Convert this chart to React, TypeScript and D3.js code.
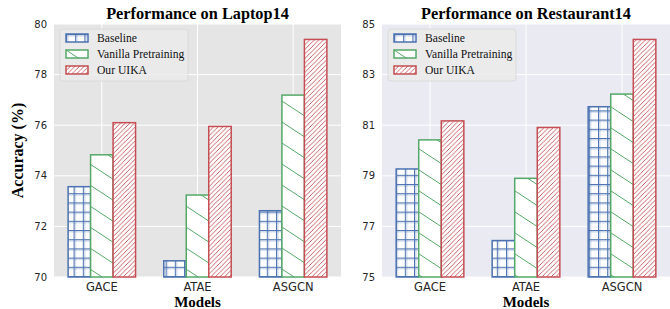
import React from 'react';
import * as d3 from 'd3';

const models = ['GACE', 'ATAE', 'ASGCN'];
const seriesNames = ['Baseline', 'Vanilla Pretraining', 'Our UIKA'];

const laptopBaseline = [73.57, 70.64, 72.62];
const laptopVanilla = [74.83, 73.24, 77.19];
const laptopUika = [76.1, 75.95, 79.39];
const laptopTicks = [70, 72, 74, 76, 78, 80];

const restBaseline = [79.27, 76.44, 81.73];
const restVanilla = [80.42, 78.9, 82.23];
const restUika = [81.17, 80.91, 84.39];
const restTicks = [75, 77, 79, 81, 83, 85];

const colors = ['#4c72b0', '#55a868', '#c44e52'];
const patterns = ['hatch-grid', 'hatch-back', 'hatch-fwd'];

const W = 670;
const H = 309;
const top = 24;
const bottom = 277;
const serif = '"Liberation Serif", "Times New Roman", serif';
const sans = '"DejaVu Sans", sans-serif';

interface PanelProps {
  title: string;
  x0: number;
  x1: number;
  series: number[][];
  ticks: number[];
  bg: string;
  showYLabel: boolean;
}

const Panel: React.FC<PanelProps> = ({ title, x0, x1, series, ticks, bg, showYLabel }) => {
  const x = d3.scaleLinear().domain([-0.5, 2.5]).range([x0, x1]);
  const y = d3
    .scaleLinear()
    .domain([ticks[0], ticks[ticks.length - 1]])
    .range([bottom, top]);
  const unit = x(1) - x(0);
  const bw = unit * 0.235;
  const mid = (x0 + x1) / 2;

  return (
    <g>
      <rect x={x0} y={top} width={x1 - x0} height={bottom - top} fill={bg} />
      {ticks.map((t) => (
        <line key={t} x1={x0} x2={x1} y1={y(t)} y2={y(t)} stroke="#fff" strokeWidth={1} />
      ))}
      {models.map((m, i) => (
        <line key={m} x1={x(i)} x2={x(i)} y1={top} y2={bottom} stroke="#fff" strokeWidth={1} />
      ))}
      {series.map((vals, s) =>
        vals.map((v, i) => {
          const bx = x(i) + (s - 1) * bw - bw / 2;
          return (
            <g key={`${s}-${i}`}>
              <rect x={bx} y={y(v)} width={bw} height={bottom - y(v)} fill="#fff" />
              <rect
                x={bx}
                y={y(v)}
                width={bw}
                height={bottom - y(v)}
                fill={`url(#${patterns[s]})`}
                stroke={colors[s]}
                strokeWidth={1.5}
              />
            </g>
          );
        })
      )}
      {ticks.map((t) => (
        <text
          key={t}
          x={x0 - 7}
          y={y(t)}
          dy="0.35em"
          textAnchor="end"
          fontFamily={sans}
          fontSize={10}
          fill="#262626"
        >
          {t}
        </text>
      ))}
      {models.map((m, i) => (
        <text
          key={m}
          x={x(i)}
          y={bottom + 14}
          textAnchor="middle"
          fontFamily={sans}
          fontSize={11.5}
          fill="#262626"
        >
          {m}
        </text>
      ))}
      <text x={mid} y={306.5} textAnchor="middle" fontFamily={serif} fontSize={15} fontWeight="bold">
        Models
      </text>
      <text x={mid} y={19} textAnchor="middle" fontFamily={serif} fontSize={16.3} fontWeight="bold">
        {title}
      </text>
      {showYLabel && (
        <text
          transform={`translate(${x0 - 31},${(top + bottom) / 2}) rotate(-90)`}
          textAnchor="middle"
          fontFamily={serif}
          fontSize={16}
          fontWeight="bold"
        >
          Accuracy (%)
        </text>
      )}
      {/* legend */}
      <g transform={`translate(${x0 + 6},29)`}>
        <rect width={128} height={52} rx={3} fill="rgba(235,235,235,0.85)" stroke="#d6d6d6" strokeWidth={0.8} />
        {seriesNames.map((n, s) => (
          <g key={n} transform={`translate(6,${5 + s * 16})`}>
            <rect width={22} height={8} fill="#fff" />
            <rect width={22} height={8} fill={`url(#${patterns[s]})`} stroke={colors[s]} strokeWidth={1.5} />
            <text x={31} y={4} dy="0.35em" fontFamily={serif} fontSize={11.6} fill="#111">
              {n}
            </text>
          </g>
        ))}
      </g>
    </g>
  );
};

export default function App() {
  return (
    <svg width={W} height={H} style={{ position: 'absolute', left: 0, top: 0, background: '#fff' }}>
      <defs>
        <pattern id="hatch-grid" patternUnits="userSpaceOnUse" width={9.2} height={9.2}>
          <line x1={0.5} y1={0} x2={0.5} y2={9.2} stroke={colors[0]} strokeWidth={1} />
          <line x1={0} y1={0.5} x2={9.2} y2={0.5} stroke={colors[0]} strokeWidth={1} />
          <line x1={1.8} y1={0} x2={1.8} y2={9.2} stroke={colors[0]} strokeOpacity={0.35} strokeWidth={1} />
          <line x1={0} y1={1.8} x2={9.2} y2={1.8} stroke={colors[0]} strokeOpacity={0.35} strokeWidth={1} />
        </pattern>
        <pattern id="hatch-back" patternUnits="userSpaceOnUse" width={32} height={21}>
          <line x1={0} y1={0} x2={32} y2={21} stroke={colors[1]} strokeWidth={1} />
          <line x1={-32} y1={0} x2={0} y2={21} stroke={colors[1]} strokeWidth={1} />
          <line x1={32} y1={0} x2={64} y2={21} stroke={colors[1]} strokeWidth={1} />
          <line x1={0} y1={-21} x2={32} y2={0} stroke={colors[1]} strokeWidth={1} />
          <line x1={0} y1={21} x2={32} y2={42} stroke={colors[1]} strokeWidth={1} />
        </pattern>
        <pattern id="hatch-fwd" patternUnits="userSpaceOnUse" width={4.6} height={4.6}>
          <line x1={-1} y1={5.6} x2={5.6} y2={-1} stroke={colors[2]} strokeWidth={0.9} />
        </pattern>
      </defs>
      <rect width={W} height={H} fill="#fff" />
      <Panel
        title="Performance on Laptop14"
        x0={54}
        x1={341}
        series={[laptopBaseline, laptopVanilla, laptopUika]}
        ticks={laptopTicks}
        bg="#e5e5e5"
        showYLabel
      />
      <Panel
        title="Performance on Restaurant14"
        x0={382}
        x1={670}
        series={[restBaseline, restVanilla, restUika]}
        ticks={restTicks}
        bg="#eaeaf2"
        showYLabel={false}
      />
    </svg>
  );
}
